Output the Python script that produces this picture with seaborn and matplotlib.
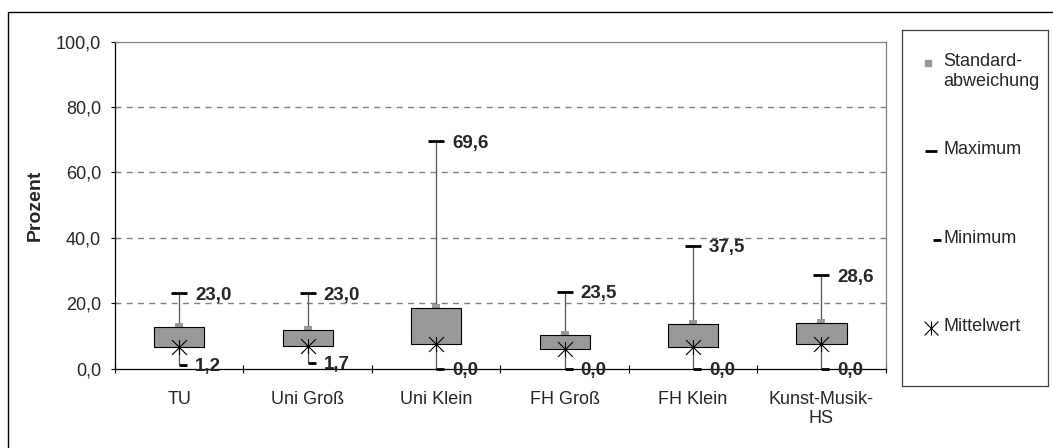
import seaborn as sns
import matplotlib.pyplot as plt
import numpy as np
import pandas as pd
from matplotlib.path import Path
from matplotlib.patches import Rectangle

# values
categories = ["TU", "Uni Groß", "Uni Klein", "FH Groß", "FH Klein", "Kunst-Musik-\nHS"]
maximum = [23.0, 23.0, 69.6, 23.5, 37.5, 28.6]
minimum = [1.2, 1.7, 0.0, 0.0, 0.0, 0.0]
std_dev = [12.8, 11.8, 18.4, 10.2, 13.7, 14.0]
mean = [6.7, 6.9, 7.4, 5.9, 6.6, 7.5]
y_ticks = [0, 20, 40, 60, 80, 100]

legend_labels = ["Standard-\nabweichung", "Maximum", "Minimum", "Mittelwert"]

df = pd.DataFrame({"pos": np.arange(len(categories)), "cat": categories,
                   "max": maximum, "min": minimum, "std": std_dev, "mean": mean})

sns.set_theme(style="white")
plt.rcParams["font.family"] = ["Liberation Sans", "DejaVu Sans"]
plt.rcParams["font.size"] = 13

# custom markers: right half tick for the minimum, excel style star for the mean
min_tick = Path([(0, 0), (1, 0)], [Path.MOVETO, Path.LINETO])
star = Path([(-1, -1), (1, 1), (-1, 1), (1, -1), (0, -1), (0, 1)],
            [Path.MOVETO, Path.LINETO, Path.MOVETO, Path.LINETO, Path.MOVETO, Path.LINETO])

W, H = 1053, 448
fig = plt.figure(figsize=(W / 100, H / 100), dpi=100)
ax = fig.add_axes([115 / W, 1 - 368.5 / H, 770.7 / W, 326.8 / H])

grey_box = "#999999"

ax.vlines(df["pos"], df["min"], df["max"], color="#555555", lw=0.9, zorder=2)
sns.scatterplot(data=df, x="pos", y="std", marker="s", s=38, color=grey_box,
                edgecolor=grey_box, linewidth=0, ax=ax, legend=False, zorder=2)
ax.bar(df["pos"], df["std"] - df["mean"], bottom=df["mean"], width=0.39,
       color=grey_box, edgecolor="black", linewidth=0.8, zorder=3)
sns.scatterplot(data=df, x="pos", y="max", marker="_", s=120, color="black",
                edgecolor="black", linewidth=2.0, ax=ax, legend=False, zorder=6,
                clip_on=False)
sns.scatterplot(data=df, x="pos", y="min", marker=min_tick, s=135, color="black",
                edgecolor="black", linewidth=2.0, ax=ax, legend=False, zorder=6,
                clip_on=False)
sns.scatterplot(data=df, x="pos", y="mean", marker=star, s=115, color="black",
                edgecolor="black", linewidth=0.8, ax=ax, legend=False, zorder=6)


def fmt(v):
    return f"{v:.1f}".replace(".", ",")


for _, r in df.iterrows():
    for col in ["max", "min"]:
        ax.annotate(fmt(r[col]), (r["pos"], r[col]), xytext=(11.5, 0),
                    textcoords="offset points", ha="left", va="center_baseline",
                    fontweight="bold", fontsize=13.5, zorder=7, annotation_clip=False)

ax.set_xlim(-0.5, len(categories) - 0.5)
ax.set_ylim(0, 100)
ax.set_yticks(y_ticks)
ax.set_yticklabels([fmt(v) for v in y_ticks])
ax.set_xticks(df["pos"])
ax.set_xticklabels(categories)
ax.set_xticks(np.arange(-0.5, len(categories)), minor=True)
ax.tick_params(axis="x", which="major", length=0, pad=16, labelsize=13)
ax.tick_params(axis="x", which="minor", direction="inout", length=6, width=0.8,
               color="black", bottom=True)
ax.tick_params(axis="y", direction="inout", length=6, width=0.8, color="black",
               left=True, pad=7, labelsize=13)
ax.set_xlabel("")
ax.set_ylabel("Prozent", fontweight="bold", fontsize=14)
ax.yaxis.set_label_coords(-0.092, 0.5)

for v in y_ticks[1:-1]:
    ax.axhline(v, color="#808080", lw=1.0, linestyle=(0, (4.3, 3.8)), zorder=1)
for side in ["left", "bottom"]:
    ax.spines[side].set_color("black")
    ax.spines[side].set_linewidth(0.9)
for side in ["top", "right"]:
    ax.spines[side].set_color("#808080")
    ax.spines[side].set_linewidth(0.9)
ax.spines["bottom"].set_zorder(5)

# legend box drawn in figure pixel space
lax = fig.add_axes([902 / W, 1 - 386 / H, 146 / W, 356 / H])
lax.set_xlim(902, 1048)
lax.set_ylim(386, 30)
lax.set_xticks([])
lax.set_yticks([])
for s in lax.spines.values():
    s.set_color("#404040")
    s.set_linewidth(0.9)
row_y = [63 + 88.3 * i for i in range(4)]
lax.plot(928, row_y[0], marker="s", ms=5, color=grey_box, mec=grey_box)
lax.plot(931, row_y[1], marker="_", ms=9, mew=2.0, color="black")
lax.plot(933, row_y[2], marker=min_tick, ms=11, mew=2.0, color="black")
lax.plot(931, row_y[3], marker=star, ms=10, mew=0.8, color="black", mfc="none")
for y, lab in zip(row_y, legend_labels):
    lax.text(943, y - 10, lab, ha="left", va="top", fontsize=13)

# outer chart border (only left and top edge lie within the picture)
fig.patches.append(Rectangle((8 / W, -0.2), 1.2, 1.2 - 12 / H, transform=fig.transFigure,
                             fill=False, edgecolor="black", linewidth=1.0))

fig.savefig("out.png", dpi=100)
